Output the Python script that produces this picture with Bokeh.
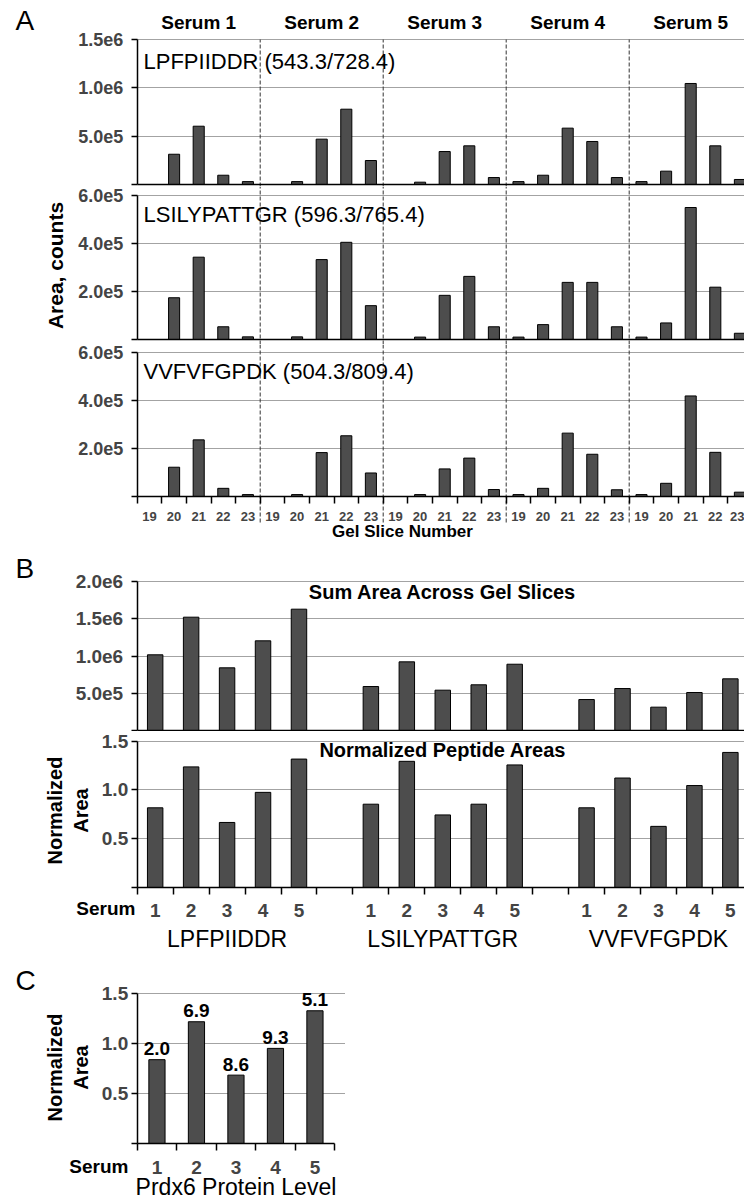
import math
from bokeh.plotting import figure
from bokeh.layouts import column
from bokeh.models import (Range1d, FixedTicker, CustomJSTickFormatter, Label,
                          ColumnDataSource, Grid)
from bokeh.core.properties import value
from bokeh.embed import file_html
from bokeh.resources import INLINE

FONT = "Liberation Sans"
BAR_FILL = "#4d4d4d"
GRID = "#a3a3a3"

# ---------------- data ----------------
slice_labels = ["19", "20", "21", "22", "23"]
serum_names = ["Serum 1", "Serum 2", "Serum 3", "Serum 4", "Serum 5"]
serum_numbers = ["1", "2", "3", "4", "5"]
peptides = ["LPFPIIDDR", "LSILYPATTGR", "VVFVFGPDK"]
peptide_titles = ["LPFPIIDDR (543.3/728.4)", "LSILYPATTGR (596.3/765.4)",
                  "VVFVFGPDK (504.3/809.4)"]

# area per gel slice (19..23) for serum 1..5
lpf_slice_area = [0, 3.13e5, 6.03e5, 0.96e5, 0.30e5,
                  0, 0.30e5, 4.69e5, 7.79e5, 2.48e5,
                  0, 0.24e5, 3.41e5, 4.00e5, 0.72e5,
                  0.30e5, 0.96e5, 5.83e5, 4.45e5, 0.72e5,
                  0.30e5, 1.38e5, 10.45e5, 4.00e5, 0.52e5]
lsi_slice_area = [0, 1.74e5, 3.43e5, 0.53e5, 0.11e5,
                  0, 0.11e5, 3.33e5, 4.05e5, 1.41e5,
                  0, 0.10e5, 1.84e5, 2.63e5, 0.53e5,
                  0.10e5, 0.62e5, 2.38e5, 2.38e5, 0.53e5,
                  0.10e5, 0.69e5, 5.50e5, 2.18e5, 0.26e5]
vvf_slice_area = [0, 1.22e5, 2.36e5, 0.34e5, 0.08e5,
                  0, 0.08e5, 1.83e5, 2.53e5, 0.98e5,
                  0, 0.08e5, 1.15e5, 1.60e5, 0.29e5,
                  0.08e5, 0.34e5, 2.64e5, 1.76e5, 0.28e5,
                  0.08e5, 0.55e5, 4.19e5, 1.84e5, 0.18e5]

lpf_sum_area = [1.016e6, 1.519e6, 0.842e6, 1.203e6, 1.626e6]
lsi_sum_area = [5.92e5, 9.22e5, 5.43e5, 6.15e5, 8.90e5]
vvf_sum_area = [4.18e5, 5.65e5, 3.16e5, 5.12e5, 6.95e5]

lpf_norm = [0.816, 1.235, 0.666, 0.974, 1.315]
lsi_norm = [0.853, 1.292, 0.743, 0.853, 1.255]
vvf_norm = [0.816, 1.121, 0.626, 1.044, 1.383]

serum_mean_norm = [0.84, 1.22, 0.685, 0.953, 1.33]
prdx6_level = ["2.0", "6.9", "8.6", "9.3", "5.1"]

# --------------- layout helpers ---------------
EXP_FMT = "if (tick == 0) { return ''; } return tick.toExponential(1).replace('+', '');"
DEC_FMT = "if (tick == 0) { return ''; } return tick.toFixed(1);"
PAGE_LEFT = 0
AXIS_X = 136.7
HAS_CROSS = "cross_bounds" in Grid.properties()


class Panel:
    """One figure strip whose frame fills the whole strip (page coords T..B, left..R)."""

    def __init__(self, T, V, Z, B, vmax, slot, R):
        self.T, self.B, self.R = T, B, R
        self.sy = vmax / (Z - V)
        self.Z = Z
        self.slot = slot
        y_start = -(B - Z) * self.sy
        y_end = vmax + (V - T) * self.sy
        self.xr = Range1d((PAGE_LEFT - AXIS_X) / slot, (R - AXIS_X) / slot)
        self.yr = Range1d(y_start, y_end)
        self.xend = self.xr.end
        self.vmax = vmax
        p = figure(frame_width=int(R - PAGE_LEFT), frame_height=int(B - T),
                   x_range=self.xr, y_range=self.yr, output_backend="svg",
                   toolbar_location=None, min_border=0, outline_line_color=None,
                   background_fill_color="white", border_fill_color="white")
        p.title.visible = False
        p.xgrid.visible = False
        self.p = p
        xa = p.xaxis[0]
        xa.fixed_location = 0
        xa.bounds = (0, self.xend)
        xa.axis_line_width = 1.5
        xa.ticker = FixedTicker(ticks=[])
        xa.major_tick_line_color = None
        xa.minor_tick_line_color = None

    def ydata(self, py):
        return (self.Z - py) * self.sy

    def yaxis(self, ticks, code, size, standoff):
        ax = self.p.yaxis[0]
        ax.fixed_location = 0
        ax.ticker = FixedTicker(ticks=ticks)
        ax.formatter = CustomJSTickFormatter(code=code)
        ax.bounds = (ticks[0], ticks[-1])
        ax.axis_line_width = 1.5
        ax.major_tick_line_width = 1.5
        ax.major_tick_out = 6
        ax.major_tick_in = 0
        ax.minor_tick_line_color = None
        ax.major_label_text_font = FONT
        ax.major_label_text_font_style = "bold"
        ax.major_label_text_font_size = size
        ax.major_label_standoff = standoff
        g = self.p.ygrid[0]
        g.ticker = FixedTicker(ticks=ticks[1:])
        g.bounds = (self.yr.start, self.yr.end)
        g.grid_line_color = GRID
        g.grid_line_width = 1
        if HAS_CROSS:
            g.cross_bounds = (0, self.xend)
        else:
            g.visible = False
            self.p.segment(x0=[0] * (len(ticks) - 1), x1=[self.xend] * (len(ticks) - 1),
                           y0=ticks[1:], y1=ticks[1:], line_color=GRID, line_width=1,
                           level="underlay")

    def xaxis(self, centers, bounds, labels, modulo, size, standoff):
        ax = self.p.xaxis[0]
        ax.ticker = FixedTicker(ticks=centers, minor_ticks=bounds)
        ax.formatter = CustomJSTickFormatter(args=dict(labels=labels, n=modulo),
                                             code="return labels[Math.floor(tick) % n];")
        ax.major_tick_line_color = "black"
        ax.major_tick_out = 0
        ax.major_tick_in = 0
        ax.minor_tick_line_color = "black"
        ax.minor_tick_out = 7
        ax.minor_tick_in = 0
        ax.minor_tick_line_width = 1.5
        ax.major_label_text_font = FONT
        ax.major_label_text_font_style = "bold"
        ax.major_label_text_font_size = size
        ax.major_label_standoff = standoff

    def text(self, px, py, text, size, bold=False, align="left", angle=0, data_x=None):
        if data_x is None:
            x, xu = px - PAGE_LEFT, "screen"
        else:
            x, xu = data_x, "data"
        self.p.add_layout(Label(x=x, y=self.B - py, x_units=xu, y_units="screen", text=text,
                                text_font=FONT, text_font_size=size,
                                text_font_style="bold" if bold else "normal",
                                text_align=align, text_baseline="middle", angle=angle,
                                text_color="black"))

    def bars(self, xs, tops, width):
        src = ColumnDataSource(dict(x=xs, top=tops))
        self.p.vbar(x="x", top="top", bottom=0, width=width, source=src,
                    fill_color=BAR_FILL, line_color="black", line_width=1)


# --------------- panel A ---------------
n_sl = len(slice_labels)
n_se = len(serum_names)
a_x = [g * n_sl + s + 0.5 for g in range(n_se) for s in range(n_sl)]
a_bounds = list(range(0, n_se * n_sl + 1))
a_seps = [g * n_sl for g in range(1, n_se)]
A_SLOT = 24.6
RIGHT = 744

a_specs = [
    # data, title, vmax, ticks, T, V, Z, B, title_y
    (lpf_slice_area, peptide_titles[0], 1.5e6, [0, 5e5, 1e6, 1.5e6], 0, 39, 184, 186, 61),
    (lsi_slice_area, peptide_titles[1], 6e5, [0, 2e5, 4e5, 6e5], 186, 195, 339, 344, 214),
    (vvf_slice_area, peptide_titles[2], 6e5, [0, 2e5, 4e5, 6e5], 344, 352, 496, 548, 371),
]
a_figs = []
for i, (data, title, vmax, ticks, T, V, Z, B, ty) in enumerate(a_specs):
    pa = Panel(T, V, Z, B, vmax, A_SLOT, RIGHT)
    pa.yaxis(ticks, EXP_FMT, "18px", 8)
    y_top = vmax if i == 0 else pa.yr.end
    y_bot = pa.ydata(522) if i == 2 else pa.yr.start
    pa.p.segment(x0=a_seps, x1=a_seps, y0=[y_bot] * len(a_seps), y1=[y_top] * len(a_seps),
                 line_color="#333333", line_width=1, line_dash="4 2")
    pa.bars(a_x, data, 0.45)
    pa.text(143, ty, title, "22px")
    if i == 0:
        pa.text(15, 20, "A", "28px")
        for g, name in enumerate(serum_names):
            pa.text(0, 22, name, "19px", bold=True, align="center", data_x=g * n_sl + n_sl / 2)
    if i == 1:
        pa.text(55, 265, "Area, counts", "21px", bold=True, align="center", angle=math.pi / 2)
    if i == 2:
        pa.xaxis(a_x, a_bounds, slice_labels, n_sl, "13px", 8)
        pa.text(402, 531, "Gel Slice Number", "17px", bold=True, align="center")
    a_figs.append(pa.p)

# --------------- panel B ---------------
n_pep = len(peptides)
slot = n_se + 1
b_x = [k * slot + i + 0.5 for k in range(n_pep) for i in range(n_se)]
b_bounds = list(range(0, n_pep * slot))
B_SLOT = 35.95
b_mid = (n_pep * slot - 1) / 2

pb1 = Panel(548, 580.7, 730.3, 731, 2e6, B_SLOT, RIGHT)
pb1.yaxis([0, 5e5, 1e6, 1.5e6, 2e6], EXP_FMT, "19px", 8)
pb1.bars(b_x, lpf_sum_area + lsi_sum_area + vvf_sum_area, 0.43)
pb1.text(0, 591.7, "Sum Area Across Gel Slices", "20px", bold=True, align="center", data_x=b_mid)
pb1.text(15, 568, "B", "28px")

pb2 = Panel(731, 740.5, 887, 950, 1.5, B_SLOT, RIGHT)
pb2.yaxis([0, 0.5, 1.0, 1.5], DEC_FMT, "19px", 3)
pb2.bars(b_x, lpf_norm + lsi_norm + vvf_norm, 0.43)
pb2.xaxis(b_x, b_bounds, serum_numbers + [""], slot, "19px", 9)
pb2.text(0, 749, "Normalized Peptide Areas", "20px", bold=True, align="center", data_x=b_mid)
pb2.text(135, 908, "Serum", "19px", bold=True, align="right")
for k, name in enumerate(peptides):
    pb2.text(0, 938, name, "23px", align="center", data_x=k * slot + n_se / 2)
pb2.text(54, 810, "Normalized", "20px", bold=True, align="center", angle=math.pi / 2)
pb2.text(80, 810, "Area", "20px", bold=True, align="center", angle=math.pi / 2)

# --------------- panel C ---------------
c_x = [i + 0.5 for i in range(n_se)]
pc = Panel(950, 993.3, 1143, 1200, 1.5, 39.5, 345)
pc.yaxis([0, 0.5, 1.0, 1.5], DEC_FMT, "19px", 3)
pc.p.xaxis[0].bounds = (0, n_se)
pc.bars(c_x, serum_mean_norm, 0.41)
pc.xaxis(c_x, list(range(0, n_se + 1)), serum_numbers, n_se, "19px", 10)
pc.p.text(x=c_x, y=serum_mean_norm, text=prdx6_level, text_align="center",
          text_baseline="alphabetic", y_offset=-11, text_font=value(FONT),
          text_font_style="bold", text_font_size="19px", text_color="black")
pc.text(128, 1166, "Serum", "19px", bold=True, align="right")
pc.text(0, 1186, "Prdx6 Protein Level", "23px", align="center", data_x=n_se / 2)
pc.text(54, 1067, "Normalized", "20px", bold=True, align="center", angle=math.pi / 2)
pc.text(80, 1067, "Area", "20px", bold=True, align="center", angle=math.pi / 2)
pc.text(15, 980, "C", "28px")

layout = column(*a_figs, pb1.p, pb2.p, pc.p, spacing=0)
open("out.html", "w").write(file_html(layout, INLINE))
